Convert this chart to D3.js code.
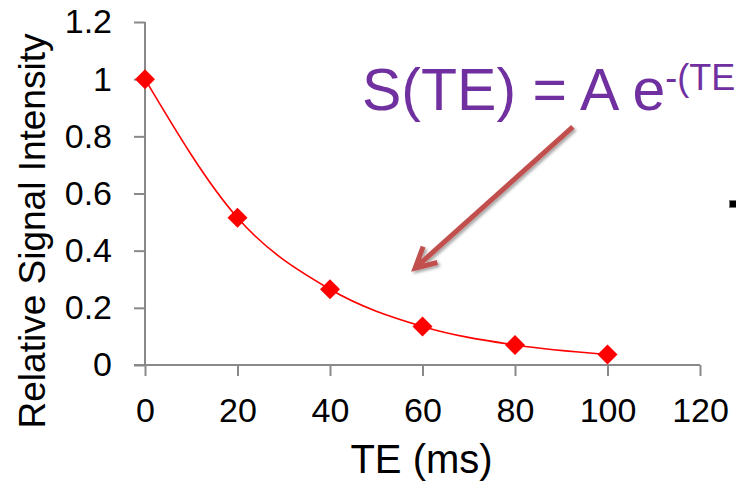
<!DOCTYPE html>
<html>
<head>
<meta charset="utf-8">
<script src="https://d3js.org/d3.v7.min.js"></script>
<style>
    body { margin: 0; background: #fff; }
    svg { display: block; font-family: "Liberation Sans", Arial, sans-serif; }
    .axis path, .axis line { stroke: #898989; stroke-width: 2; }
    .axis text { fill: #000; font-size: 34px; }
</style>
</head>
<body>
<div id="chart"></div>
<script>
// data
var teValues = [0, 20, 40, 60, 80, 100];
var signalValues = [1, 0.515, 0.265, 0.135, 0.07, 0.037];
var xTicks = [0, 20, 40, 60, 80, 100, 120];
var yTicks = [0, 0.2, 0.4, 0.6, 0.8, 1, 1.2];
// arrow annotation, in data units: [TE, signal]
var arrowFrom = [92.5, 0.833];
var arrowTo = [58.4, 0.339];

var width = 736, height = 484;
var margin = { top: 22, right: 36, bottom: 119, left: 145 };
var innerW = width - margin.left - margin.right;
var innerH = height - margin.top - margin.bottom;

var svg = d3.select("#chart").append("svg")
    .attr("width", width)
    .attr("height", height);

var defs = svg.append("defs");
var shadow = defs.append("filter")
    .attr("id", "shadow")
    .attr("x", "-20%").attr("y", "-20%")
    .attr("width", "140%").attr("height", "140%");
shadow.append("feDropShadow")
    .attr("dx", 2).attr("dy", 2)
    .attr("stdDeviation", 1.5)
    .attr("flood-color", "#000")
    .attr("flood-opacity", 0.35);

var g = svg.append("g")
    .attr("transform", "translate(" + margin.left + "," + margin.top + ")");

// Scales and axes
var x = d3.scaleLinear().domain([0, 120]).range([0, innerW]);
var y = d3.scaleLinear().domain([0, 1.2]).range([innerH, 0]);

var xAxis = d3.axisBottom(x)
    .tickValues(xTicks)
    .tickSize(11)
    .tickSizeOuter(0)
    .tickPadding(14)
    .tickFormat(d3.format("d"));

var yAxis = d3.axisLeft(y)
    .tickValues(yTicks)
    .tickSize(11)
    .tickSizeOuter(0)
    .tickPadding(22)
    .tickFormat(function(d) { return d3.format("~g")(d); });

g.append("g")
    .attr("class", "y-axis axis")
    .call(yAxis)
    .call(function(s) { s.select(".domain").attr("d", "M0," + y(1.2) + "V" + innerH); });

g.append("g")
    .attr("class", "x-axis axis")
    .attr("transform", "translate(0," + innerH + ")")
    .call(xAxis)
    .call(function(s) { s.select(".domain").attr("d", "M-11,0H" + innerW); })
    .selectAll("text").attr("dy", "0.93em");

g.selectAll(".axis").attr("font-family", null).attr("font-size", null);

// axis titles
svg.append("text")
    .attr("transform", "translate(45,231) rotate(-90)")
    .attr("text-anchor", "middle")
    .attr("font-size", 37)
    .attr("fill", "#000")
    .text("Relative Signal Intensity");

svg.append("text")
    .attr("x", margin.left + innerW / 2 - 1)
    .attr("y", 473)
    .attr("text-anchor", "middle")
    .attr("font-size", 40)
    .attr("fill", "#000")
    .text("TE (ms)");

// fitted curve through the points
var points = teValues.map(function(t, i) { return { te: t, s: signalValues[i] }; });

var line = d3.line()
    .curve(d3.curveMonotoneX)
    .x(function(d) { return x(d.te); })
    .y(function(d) { return y(d.s); });

g.append("path")
    .datum(points)
    .attr("fill", "none")
    .attr("stroke", "#ff0000")
    .attr("stroke-width", 1.6)
    .attr("d", line);

g.selectAll(".marker")
    .data(points)
    .enter().append("path")
    .attr("class", "marker")
    .attr("d", d3.symbol().type(d3.symbolSquare).size(200))
    .attr("transform", function(d) { return "translate(" + x(d.te) + "," + y(d.s) + ") rotate(45)"; })
    .attr("fill", "#ff0000");

// formula annotation
var formula = svg.append("text")
    .attr("x", 362)
    .attr("y", 110)
    .attr("font-size", 59)
    .attr("fill", "#7030a0");
formula.append("tspan").text("S(TE) = A e");
formula.append("tspan")
    .attr("font-size", 36)
    .attr("dy", -20)
    .text("-(TE");

// arrow
var ax0 = x(arrowFrom[0]), ay0 = y(arrowFrom[1]);
var ax1 = x(arrowTo[0]), ay1 = y(arrowTo[1]);
var ang = Math.atan2(ay1 - ay0, ax1 - ax0);
var headLen = 23, headAng = Math.PI / 6.5;
var barb1 = [ax1 - headLen * Math.cos(ang - headAng), ay1 - headLen * Math.sin(ang - headAng)];
var barb2 = [ax1 - headLen * Math.cos(ang + headAng), ay1 - headLen * Math.sin(ang + headAng)];

var arrow = g.append("g")
    .attr("filter", "url(#shadow)")
    .attr("fill", "none")
    .attr("stroke", "#c0504d")
    .attr("stroke-width", 5);
arrow.append("line")
    .attr("x1", ax0).attr("y1", ay0)
    .attr("x2", ax1).attr("y2", ay1);
arrow.append("path")
    .attr("stroke-linejoin", "miter")
    .attr("d", "M" + barb1 + "L" + ax1 + "," + ay1 + "L" + barb2);

// small black mark at the right edge
svg.append("rect")
    .attr("x", 729.5).attr("y", 200.5)
    .attr("width", 7).attr("height", 7)
    .attr("fill", "#000")
    .attr("stroke", "#777")
    .attr("stroke-width", 1);
</script>
</body>
</html>
